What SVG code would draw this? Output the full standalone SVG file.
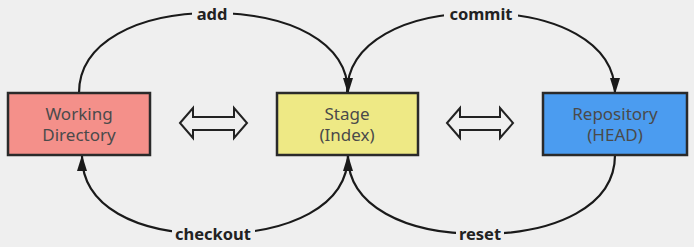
<svg xmlns="http://www.w3.org/2000/svg" width="694" height="247" viewBox="0 0 694 247">
  <defs>
    <marker id="tip" viewBox="0 0 16 10" refX="15" refY="5" markerWidth="16" markerHeight="10" markerUnits="userSpaceOnUse" orient="auto">
      <path d="M0,0 L16,5 L0,10 Z" fill="#1a1a1a"/>
    </marker>
    <style>
      .box { stroke: #2a2a2a; stroke-width: 2.5; }
      .name { font-family: "Noto Sans", "Open Sans", sans-serif; font-size: 17px; fill: #4a4a4a; text-anchor: middle; }
      .flow { fill: none; stroke: #1a1a1a; stroke-width: 2.2; marker-end: url(#tip); }
      .lbl { font-family: "Noto Sans", "Open Sans", sans-serif; font-size: 16.5px; font-weight: bold; fill: #222; text-anchor: middle; }
      .gap { fill: #efefef; }
      .dbl { fill: none; stroke: #222; stroke-width: 2; stroke-linejoin: miter; }
    </style>
  </defs>
  <rect width="694" height="247" fill="#efefef"/>

  <g id="connectors">
    <path class="flow" d="M79,93 C79,42 138,13 212,13 C290,13 348,42 348,93"/>
    <path class="flow" d="M347,93 C347,42 405,13 480,13 C556,13 615,42 615,93"/>
    <path class="flow" d="M348,155 C348,206 290,234 212,234 C135,234 82,206 82,156"/>
    <path class="flow" d="M615,155 C615,206 556,234 480,234 C405,234 348,206 348,156"/>
    <g>
      <rect class="gap" x="192" y="4" width="41" height="18"/>
      <text class="lbl" x="212" y="20">add</text>
      <rect class="gap" x="444" y="4" width="74" height="18"/>
      <text class="lbl" x="481" y="20">commit</text>
      <rect class="gap" x="172" y="225" width="83" height="18"/>
      <text class="lbl" x="213" y="240">checkout</text>
      <rect class="gap" x="456" y="225" width="48" height="18"/>
      <text class="lbl" x="480" y="240">reset</text>
    </g>
  </g>

  <g id="working-directory">
    <rect class="box" x="8" y="93" width="142" height="62" fill="#f4908a"/>
    <text class="name" x="79" y="120">Working</text>
    <text class="name" x="79" y="141">Directory</text>
  </g>

  <g id="stage">
    <rect class="box" x="277" y="93" width="141" height="62" fill="#eee985"/>
    <text class="name" x="347" y="120">Stage</text>
    <text class="name" x="347" y="141">(Index)</text>
  </g>

  <g id="repository">
    <rect class="box" x="543" y="93" width="144" height="62" fill="#4b9cf0"/>
    <text class="name" x="615" y="120" fill="#2f3e50">Repository</text>
    <text class="name" x="615" y="141" fill="#2f3e50">(HEAD)</text>
  </g>

  <g id="swap-1">
    <path class="dbl" d="M180,123 L193,108 L193,117 L234,117 L234,108 L247,123 L234,138 L234,130 L193,130 L193,138 Z"/>
  </g>
  <g id="swap-2">
    <path class="dbl" d="M447,123 L460,108 L460,117 L500,117 L500,108 L513,123 L500,138 L500,130 L460,130 L460,138 Z"/>
  </g>
</svg>
